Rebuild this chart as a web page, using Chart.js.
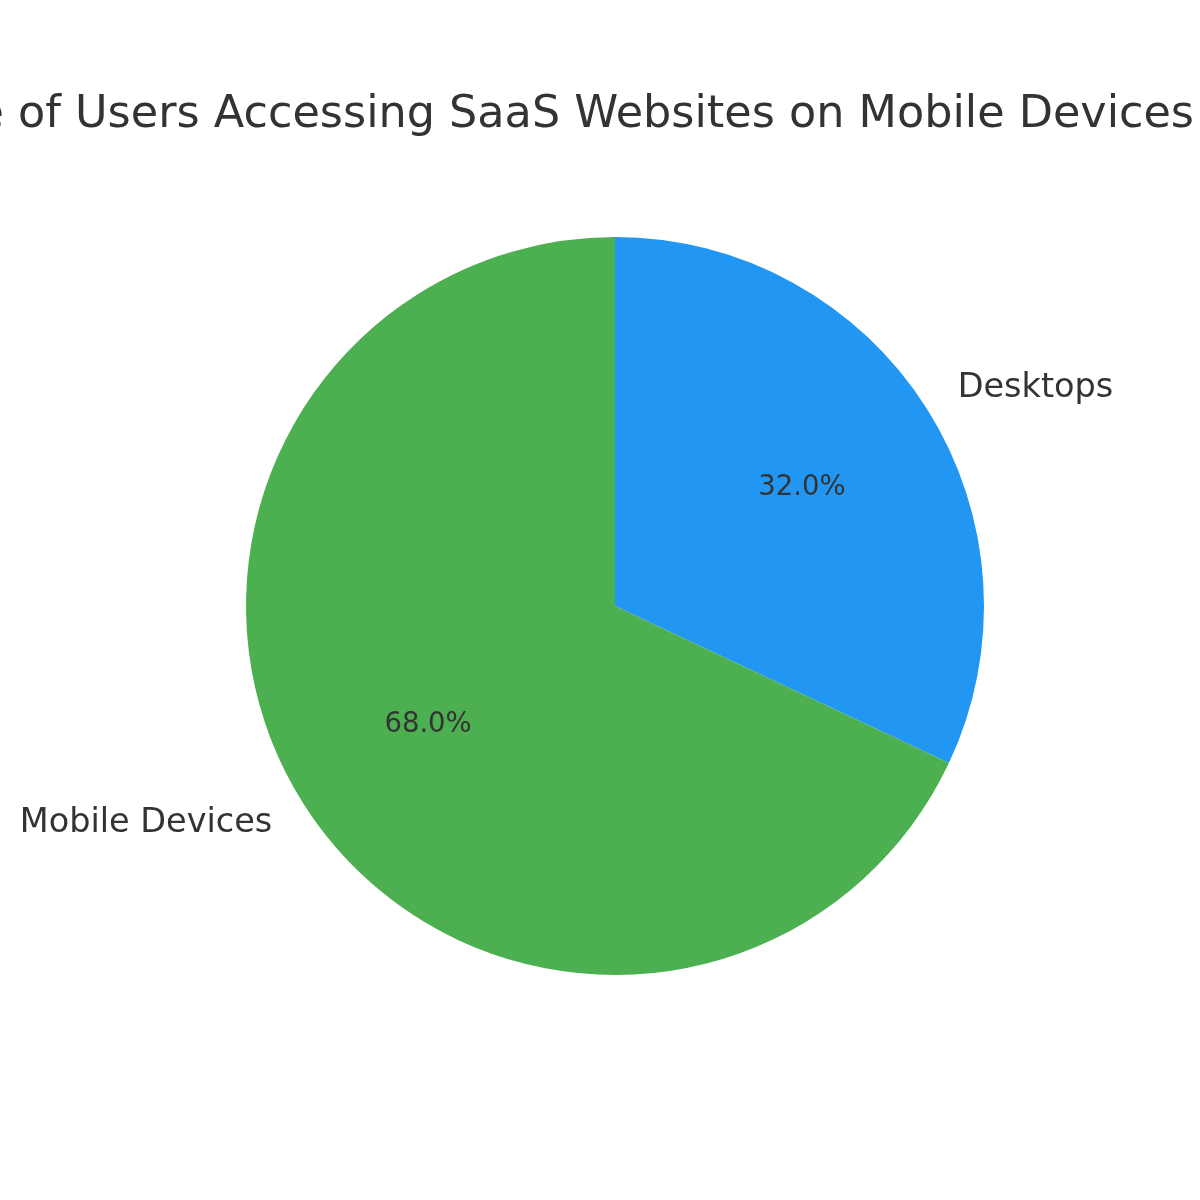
<!DOCTYPE html>
<html>
<head>
<meta charset="utf-8">
<script src="https://cdn.jsdelivr.net/npm/chart.js@4"></script>
<style>
  html, body { margin: 0; padding: 0; background: #fff; }
  #wrap { width: 1200px; height: 1200px; }
</style>
</head>
<body>
<div id="wrap"><canvas id="pieChart" width="1200" height="1200"></canvas></div>
<script>
// Data
const labels = ['Desktops', 'Mobile Devices'];
const shares = [32, 68];
const colors = ['#2196F3', '#4CAF50'];
const titleText = 'Percentage of Users Accessing SaaS Websites on Mobile Devices';

const textColor = '#333333';
const fontFamily = '"DejaVu Sans", sans-serif';

// draws title, outside labels and percentages (like matplotlib autopct)
const pieText = {
    id: 'pieText',
    afterDatasetsDraw(chart) {
        const c = chart.ctx;
        const meta = chart.getDatasetMeta(0);
        const total = shares.reduce((a, b) => a + b, 0);
        c.save();
        c.fillStyle = textColor;

        // title - it is wider than the canvas, "of" lands near x=18
        c.font = '44.5px ' + fontFamily;
        c.textAlign = 'left';
        c.textBaseline = 'alphabetic';
        const lead = c.measureText('Percentage ').width;
        c.fillText(titleText, 18 - lead, 127);

        c.textBaseline = 'middle';
        meta.data.forEach((arc, i) => {
            const mid = (arc.startAngle + arc.endAngle) / 2;
            const cx = arc.x, cy = arc.y, r = arc.outerRadius;

            // percentage inside
            c.font = '27.5px ' + fontFamily;
            c.textAlign = 'center';
            c.fillText((shares[i] / total * 100).toFixed(1) + '%',
                cx + Math.cos(mid) * r * 0.6, cy + Math.sin(mid) * r * 0.6);

            // label outside
            const lx = cx + Math.cos(mid) * r * 1.1;
            const ly = cy + Math.sin(mid) * r * 1.1;
            c.font = '33.5px ' + fontFamily;
            c.textAlign = Math.cos(mid) >= 0 ? 'left' : 'right';
            c.fillText(labels[i], lx, ly);
        });
        c.restore();
    }
};

const ctx = document.getElementById('pieChart').getContext('2d');
const chart = new Chart(ctx, {
    type: 'pie',
    data: {
        labels: labels,
        datasets: [{
            data: shares,
            backgroundColor: colors,
            borderWidth: 0
        }]
    },
    options: {
        responsive: false,
        animation: false,
        layout: {
            padding: { left: 246, right: 216, top: 237, bottom: 225 }
        },
        plugins: {
            legend: { display: false },
            title: { display: false },
            tooltip: { enabled: false }
        }
    },
    plugins: [pieText]
});
</script>
</body>
</html>
